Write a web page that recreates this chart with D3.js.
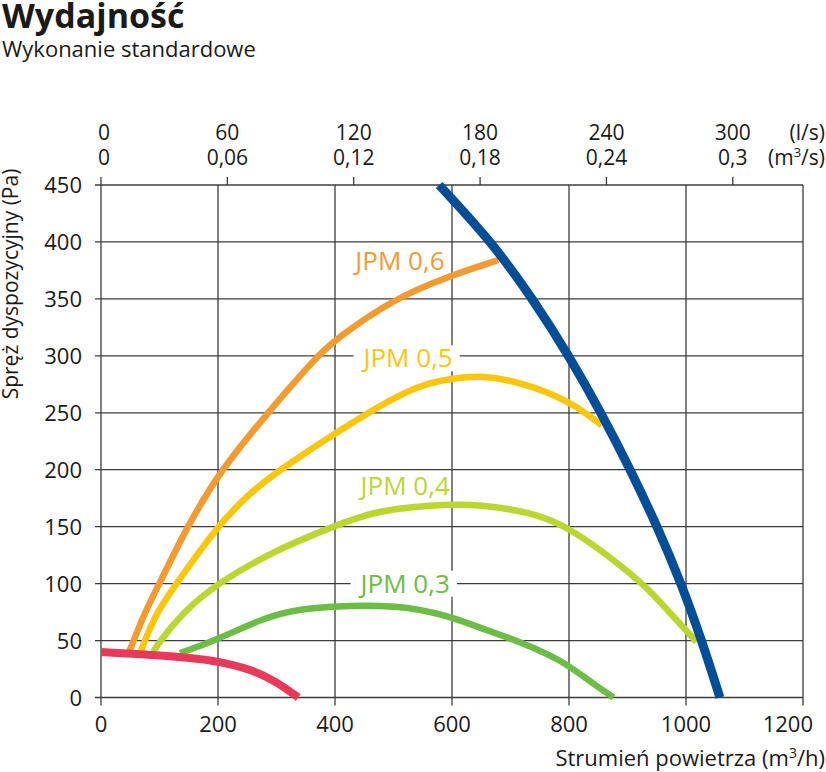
<!DOCTYPE html>
<html lang="pl">
<head>
    <meta charset="UTF-8">
    <title>Wydajność</title>
    <script src="https://d3js.org/d3.v7.min.js"></script>
    <style>
        body {
            margin: 0;
            padding: 0;
            background: #fff;
        }
        svg {
            display: block;
            font-family: 'Open Sans', sans-serif;
        }
        text {
            fill: #1a1a1a;
        }
    </style>
</head>
<body>
    <svg width="826" height="772"></svg>

    <script>
        // axis ticks
        const xTicks = [0, 200, 400, 600, 800, 1000, 1200];
        const yTicks = [0, 50, 100, 150, 200, 250, 300, 350, 400, 450];
        const lsTicks = [0, 60, 120, 180, 240, 300];
        const m3sLabels = ["0", "0,06", "0,12", "0,18", "0,24", "0,3"];

        // curves, [m3/h, Pa]
        const jpm06 = [[48, 40], [52, 45], [75, 75], [100, 100], [147, 150], [205, 200], [285, 250],
                       [370, 300], [400, 314], [499, 350], [600, 371], [679, 384]];
        const jpm05 = [[68, 40], [71, 45], [95, 75], [129, 100], [198, 150], [255, 180], [305, 200],
                       [454, 250], [545, 275], [599, 280], [653, 283], [716, 277], [800, 261], [856, 239]];
        const jpm04 = [[90, 40], [94, 45], [140, 75], [198, 100], [300, 130], [397, 150], [471, 165],
                       [599, 170], [650, 169], [733, 163], [799, 150], [876, 121], [933, 97], [973, 74], [1018, 49]];
        const jpm03 = [[135, 39], [195, 50], [283, 71], [340, 78], [426, 81], [511, 80], [545, 77],
                       [599, 71], [659, 59], [711, 50], [773, 36], [799, 28], [842, 12], [876, 0]];
        const limitBlue = [[578, 450], [668, 400], [738, 350], [800, 300], [855, 250], [905, 200],
                           [951, 150], [992, 100], [1027, 50], [1058, 0]];
        const limitRed = [[0, 40], [84, 37.5], [150, 35], [200, 32], [255, 25], [300, 14], [337, 0]];

        // label anchor: centre x, baseline y (data units)
        const labels = [
            { text: "JPM 0,6", x: 511, y: 375, color: "#f39a31", bg: false },
            { text: "JPM 0,5", x: 525, y: 290, color: "#fcc60e", bg: true },
            { text: "JPM 0,4", x: 520, y: 178, color: "#bcd531", bg: false },
            { text: "JPM 0,3", x: 520, y: 92, color: "#6cbd45", bg: true }
        ];

        const svg = d3.select("svg");

        const x = d3.scaleLinear().domain([0, 1200]).range([101, 803]);
        const y = d3.scaleLinear().domain([0, 450]).range([697.5, 185]);
        const gridColor = "#3c3c3c";
        const fs = 22;

        // title
        svg.append("text").attr("x", 2).attr("y", 28)
           .attr("font-size", 34).attr("font-weight", 700)
           .text("Wydajność");
        svg.append("text").attr("x", 2).attr("y", 57)
           .attr("font-size", 22)
           .text("Wykonanie standardowe");

        // grid
        svg.selectAll(".hgrid")
           .data(yTicks)
           .enter().append("line")
           .attr("x1", x(0) - 6).attr("x2", x(1200))
           .attr("y1", d => y(d)).attr("y2", d => y(d))
           .attr("stroke", gridColor).attr("stroke-width", 1.3);

        svg.selectAll(".vgrid")
           .data(xTicks)
           .enter().append("line")
           .attr("x1", d => x(d)).attr("x2", d => x(d))
           .attr("y1", d => d === 0 ? y(450) - 8 : y(450))
           .attr("y2", y(0) + 8)
           .attr("stroke", gridColor).attr("stroke-width", 1.3);

        // top ticks (l/s -> m3/h)
        svg.selectAll(".ttick")
           .data(lsTicks.slice(1))
           .enter().append("line")
           .attr("x1", d => x(d * 3.6)).attr("x2", d => x(d * 3.6))
           .attr("y1", y(450)).attr("y2", y(450) - 8)
           .attr("stroke", gridColor).attr("stroke-width", 1.3);

        // y labels
        svg.selectAll(".ylab")
           .data(yTicks)
           .enter().append("text")
           .attr("x", 82).attr("y", d => y(d) + 8)
           .attr("text-anchor", "end").attr("font-size", fs)
           .text(d => d);

        // x labels (last one kept inside the frame)
        svg.selectAll(".xlab")
           .data(xTicks)
           .enter().append("text")
           .attr("x", d => d === 1200 ? x(d) + 10 : x(d)).attr("y", 732)
           .attr("text-anchor", d => d === 1200 ? "end" : "middle")
           .attr("font-size", fs)
           .text(d => d);

        // top labels
        svg.selectAll(".lslab")
           .data(lsTicks)
           .enter().append("text")
           .attr("x", d => x(d * 3.6) + (d === 0 ? 3 : 0)).attr("y", 140)
           .attr("text-anchor", "middle").attr("font-size", 21)
           .text(d => d);
        svg.selectAll(".m3slab")
           .data(lsTicks)
           .enter().append("text")
           .attr("x", (d, i) => x(d * 3.6) + (i === 0 ? 3 : 0)).attr("y", 165)
           .attr("text-anchor", "middle").attr("font-size", 21)
           .text((d, i) => m3sLabels[i]);

        svg.append("text").attr("x", 825).attr("y", 140)
           .attr("text-anchor", "end").attr("font-size", 21)
           .text("(l/s)");
        const m3 = svg.append("text").attr("x", 825).attr("y", 165)
           .attr("text-anchor", "end").attr("font-size", 21);
        m3.append("tspan").text("(m");
        m3.append("tspan").attr("font-size", 13).attr("dy", -8).text("3");
        m3.append("tspan").attr("dy", 8).text("/s)");

        // axis titles
        const xt = svg.append("text").attr("x", 825).attr("y", 766)
           .attr("text-anchor", "end").attr("font-size", fs);
        xt.append("tspan").text("Strumień powietrza (m");
        xt.append("tspan").attr("font-size", 14).attr("dy", -8).text("3");
        xt.append("tspan").attr("dy", 8).text("/h)");

        svg.append("text")
           .attr("transform", "translate(18,284) rotate(-90)")
           .attr("text-anchor", "middle").attr("font-size", 21)
           .text("Spręż dyspozycyjny (Pa)");

        // curve labels
        labels.forEach(l => {
            const g = svg.append("g");
            const t = g.append("text")
               .attr("x", x(l.x)).attr("y", y(l.y))
               .attr("text-anchor", "middle").attr("font-size", 26)
               .style("fill", l.color)
               .text(l.text);
            if (l.bg) {
                const b = t.node().getBBox();
                g.insert("rect", "text")
                 .attr("x", b.x - 7).attr("width", b.width + 14)
                 .attr("y", y(l.y) - 22).attr("height", 26)
                 .attr("fill", "#fff");
            }
        });

        // curves
        const line = d3.line()
            .x(d => x(d[0]))
            .y(d => y(d[1]))
            .curve(d3.curveBasis);

        const series = [
            { data: jpm03, color: "#6cbd45", w: 6.5 },
            { data: jpm04, color: "#bcd531", w: 6.5 },
            { data: jpm05, color: "#fcc60e", w: 6.5 },
            { data: jpm06, color: "#f39a31", w: 6.5 },
            { data: limitBlue, color: "#034e96", w: 9 },
            { data: limitRed, color: "#e8395a", w: 8 }
        ];

        svg.selectAll(".curve")
           .data(series)
           .enter().append("path")
           .attr("d", d => line(d.data))
           .attr("fill", "none")
           .attr("stroke", d => d.color)
           .attr("stroke-width", d => d.w)
           .attr("stroke-linecap", "butt")
           .attr("stroke-linejoin", "round");
    </script>
</body>
</html>
